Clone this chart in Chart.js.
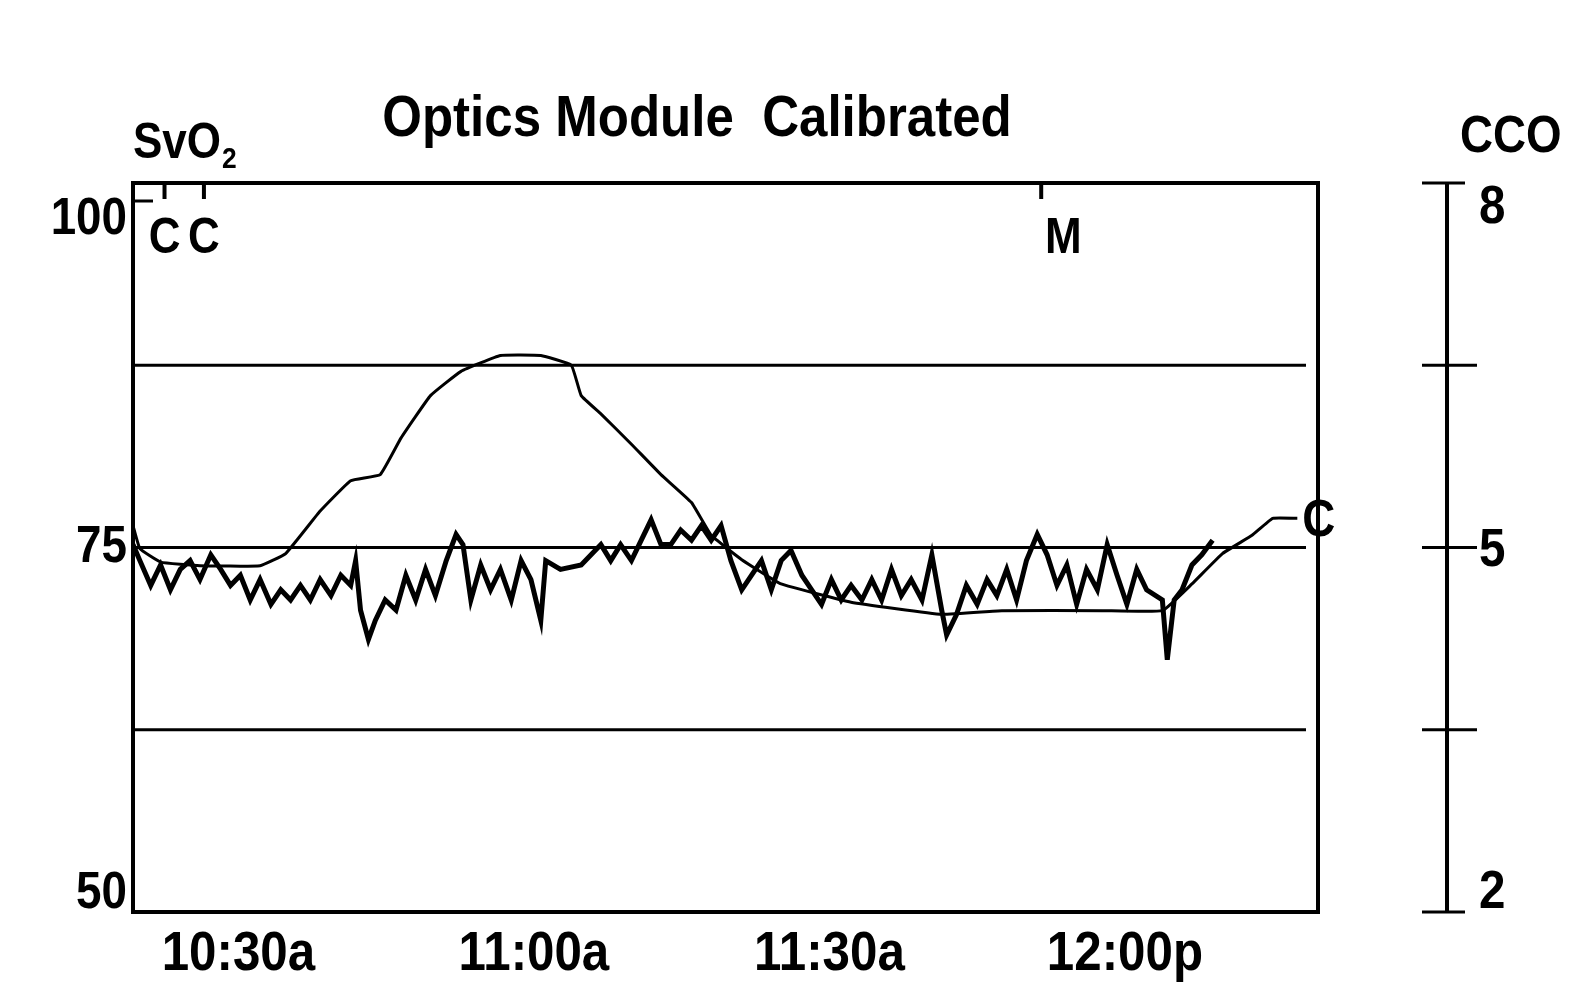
<!DOCTYPE html>
<html><head><meta charset="utf-8">
<script src="https://cdn.jsdelivr.net/npm/chart.js@4.4.0/dist/chart.umd.min.js"></script>
<style>html,body{margin:0;padding:0;background:#fff}</style>
</head><body>
<canvas id="c" width="1592" height="1001"></canvas>
<script>
// minutes after 10:00
const svo2Times = [19.3,20.0,21.1,22.1,23.1,24.1,25.1,26.1,27.2,28.2,29.2,30.2,31.2,32.2,33.3,34.3,35.3,36.3,37.3,38.3,39.4,40.4,41.4,41.9,42.4,43.2,43.9,44.9,46.0,47.0,48.0,49.0,50.0,51.1,52.1,52.8,53.6,54.6,55.6,56.6,57.7,58.7,59.7,60.7,61.2,62.7,64.8,66.8,67.8,68.8,69.9,70.9,71.9,72.9,73.9,74.9,76.0,77.0,78.0,79.0,80.0,81.1,82.1,83.1,84.1,85.1,86.1,87.2,88.2,89.2,90.2,91.2,92.2,93.3,94.3,95.3,96.3,97.3,98.3,99.4,100.4,101.4,101.9,102.9,103.9,105.0,106.0,107.0,108.0,109.0,110.0,111.1,112.1,113.1,114.1,115.1,116.1,117.2,118.2,119.2,120.2,121.2,122.2,123.8,124.3,125.0,125.8,126.8,127.8,128.9];
const svo2Values = [75.2,74.1,72.4,73.8,72.1,73.5,74.1,72.8,74.5,73.5,72.4,73.1,71.4,72.8,71.1,72.1,71.4,72.4,71.4,72.8,71.7,73.1,72.4,74.1,70.7,68.7,70.0,71.4,70.7,73.1,71.4,73.5,71.7,74.1,75.9,75.2,71.4,73.8,72.1,73.5,71.4,74.1,72.8,70.0,74.1,73.5,73.8,75.2,74.1,75.2,74.1,75.5,76.9,75.2,75.2,76.2,75.5,76.5,75.5,76.5,74.1,72.1,73.1,74.1,72.1,74.1,74.8,73.1,72.1,71.1,72.8,71.4,72.4,71.4,72.8,71.4,73.5,71.7,72.8,71.4,74.5,70.7,69.0,70.4,72.4,71.1,72.8,71.7,73.5,71.4,74.1,75.9,74.5,72.4,73.8,71.1,73.5,72.1,75.2,73.1,71.1,73.5,72.1,71.4,67.3,71.4,72.1,73.8,74.5,75.5];
const ccoTimes = [19.3,20.0,22.1,26.1,32.2,34.8,38.3,41.4,44.4,46.5,49.5,52.6,56.6,60.7,63.8,64.8,66.8,69.9,72.9,76.0,78.0,81.1,85.1,92.2,101.4,107.5,117.7,123.8,126.8,129.9,132.9,135.0,137.5];
const ccoValues = [5.18,4.99,4.88,4.85,4.85,4.95,5.3,5.55,5.6,5.9,6.25,6.45,6.58,6.58,6.5,6.25,6.1,5.85,5.6,5.37,5.1,4.9,4.7,4.55,4.45,4.48,4.48,4.48,4.7,4.95,5.1,5.24,5.24];
const xTickValues = [30,60,90,120];
const xTickLabels = ['10:30a','11:00a','11:30a','12:00p'];
const yTickValues = [50,75,100];
const gridValues = [62.5,75,87.5];
const ccoTickValues = [2,3.5,5,6.5,8];
const ccoTickLabels = ['2','','5','','8'];
const markers = [{t:22.5,label:'C'},{t:26.5,label:'C'},{t:111.5,label:'M'}];

const F = "'Liberation Sans',Arial,sans-serif";
function txt(c,s,x,y,size,align){
  const k=0.88;
  c.save(); c.font="bold "+size+"px "+F; c.textAlign=align||'left'; c.textBaseline='alphabetic';
  c.translate(x,y); c.scale(k,1); c.fillText(s,0,0); c.restore();
}
const deco = {
  id:'deco',
  beforeDatasetsDraw(ch){
    const c=ch.ctx, a=ch.chartArea, y=ch.scales.y;
    c.save(); c.strokeStyle='#000'; c.lineWidth=3;
    gridValues.forEach(v=>{const p=y.getPixelForValue(v);c.beginPath();c.moveTo(a.left,p);c.lineTo(a.right-12,p);c.stroke();});
    c.restore();
  },
  afterDraw(ch){
    const c=ch.ctx, a=ch.chartArea, x=ch.scales.x, y=ch.scales.y, y1=ch.scales.y1;
    c.save(); c.fillStyle='#000'; c.strokeStyle='#000';
    c.lineWidth=4; c.strokeRect(a.left,a.top,a.right-a.left,a.bottom-a.top);
    txt(c,'Optics Module  Calibrated',697,136,58,'center');
    txt(c,'SvO',133,158,50); txt(c,'2',222,168,30);
    txt(c,'CCO',1460,152,52);
    xTickValues.forEach((v,i)=>txt(c,xTickLabels[i],x.getPixelForValue(v),970,56,'center'));
    txt(c,'100',a.left-6,234,52,'right');
    txt(c,'75',a.left-6,y.getPixelForValue(75)+14,52,'right');
    txt(c,'50',a.left-6,y.getPixelForValue(50)-4,52,'right');
    c.lineWidth=3; c.beginPath(); c.moveTo(a.left,a.top+18); c.lineTo(a.left+20,a.top+18); c.stroke();
    markers.forEach(m=>{const px=x.getPixelForValue(m.t);c.lineWidth=4;c.beginPath();c.moveTo(px,a.top);c.lineTo(px,a.top+16);c.stroke();txt(c,m.label,px+(m.label==='M'?22:0),a.top+70,50,'center');});
    const lt=ccoTimes[ccoTimes.length-1];
    txt(c,'C',x.getPixelForValue(lt)+5,y1.getPixelForValue(ccoValues[ccoValues.length-1])+18,52);
    const rx=1447; c.lineWidth=4;
    c.beginPath(); c.moveTo(rx,y1.getPixelForValue(8)); c.lineTo(rx,y1.getPixelForValue(2)); c.stroke();
    c.lineWidth=3;
    ccoTickValues.forEach((v,i)=>{const p=y1.getPixelForValue(v);c.beginPath();c.moveTo(rx-25,p);c.lineTo(rx+(i===0||i===4?18:30),p);c.stroke();
      if(ccoTickLabels[i]) txt(c,ccoTickLabels[i],rx+32,p+(i===4?40:(i===0?-4:18)),54);});
    c.restore();
  }
};
new Chart(document.getElementById('c'),{
  type:'line',
  data:{datasets:[
    {label:'SvO2',data:svo2Times.map((t,i)=>({x:t,y:svo2Values[i]})),borderColor:'#000',borderWidth:5,pointRadius:0,tension:0,yAxisID:'y'},
    {label:'CCO',data:ccoTimes.map((t,i)=>({x:t,y:ccoValues[i]})),borderColor:'#000',borderWidth:3,pointRadius:0,tension:0.1,yAxisID:'y1'}
  ]},
  options:{responsive:false,animation:false,
    layout:{padding:{left:133,top:183,right:274,bottom:89}},
    plugins:{legend:{display:false},tooltip:{enabled:false}},
    scales:{
      x:{type:'linear',min:19.3,max:139.6,display:false},
      y:{min:50,max:100,display:false},
      y1:{min:2,max:8,display:false}
    }},
  plugins:[deco]
});
</script></body></html>
